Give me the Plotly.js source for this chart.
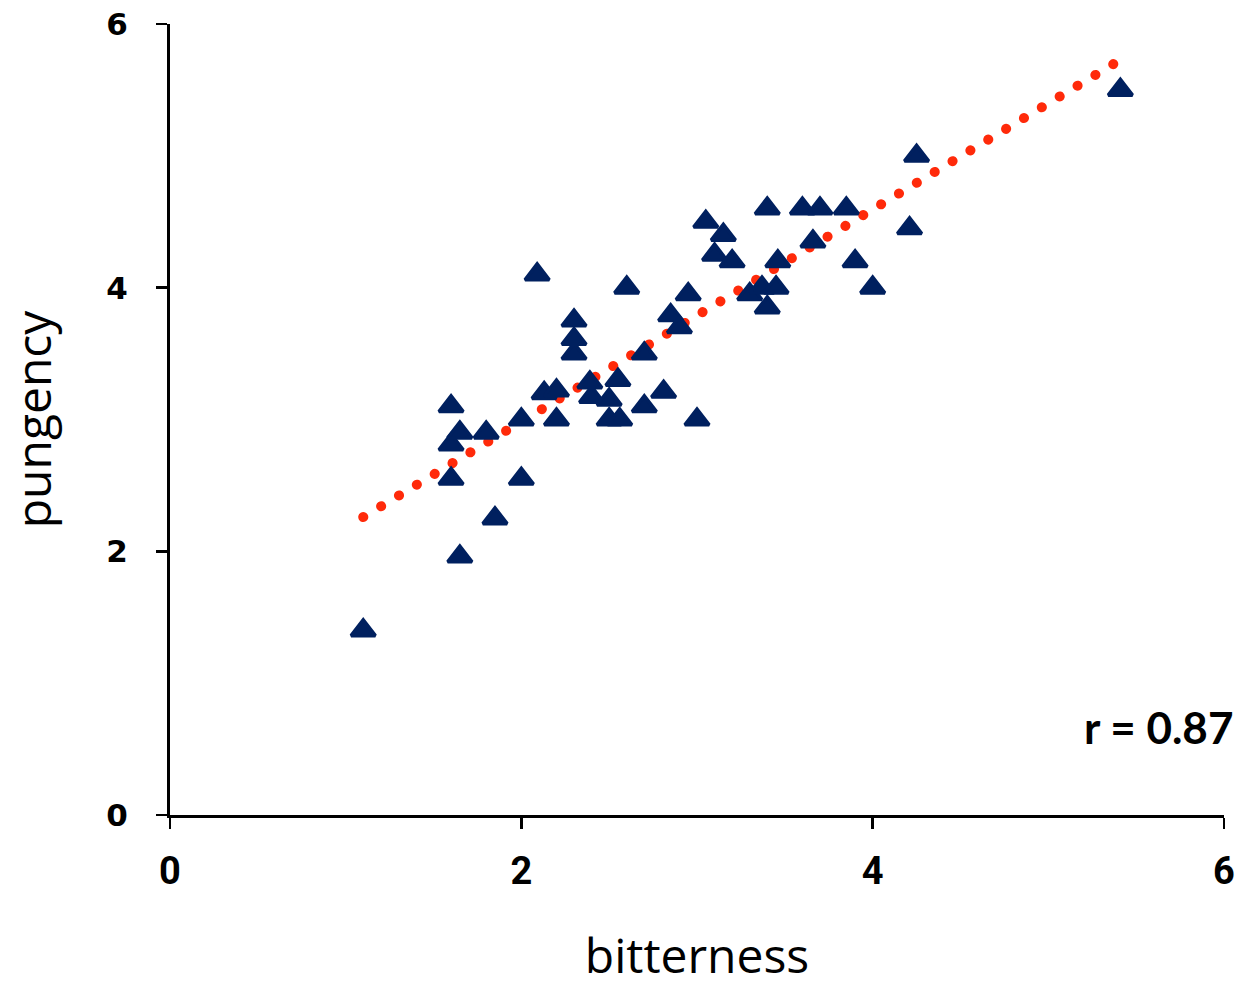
<!DOCTYPE html>
<html>
<head>
<meta charset="utf-8">
<script src="https://cdn.plot.ly/plotly-3.0.1.min.js"></script>
<style>
html, body { margin: 0; padding: 0; background: #ffffff; }
#chart { width: 1249px; height: 987px; }
.scatterlayer .trace:first-child .js-line { stroke-linecap: round !important; }
</style>
</head>
<body>
<div id="chart"></div>
<script>
// bitterness (x) and pungency (y)
const bitterness = [1.10, 1.65, 1.85, 1.60, 2.00, 1.60, 1.65, 1.80, 1.60, 2.00,
                    2.20, 2.09, 2.13, 2.20, 2.30, 2.30, 2.30, 2.40, 2.39, 2.50,
                    2.50, 2.56, 2.55, 2.60, 2.70, 2.70, 2.81, 2.85, 2.90, 2.95,
                    3.00, 3.05, 3.10, 3.15, 3.20, 3.30, 3.37, 3.40, 3.40, 3.45,
                    3.46, 3.60, 3.66, 3.70, 3.85, 3.90, 4.00, 4.21, 4.25, 5.41];
const pungency   = [1.40, 1.96, 2.25, 2.55, 2.55, 2.81, 2.90, 2.90, 3.10, 3.00,
                    3.00, 4.10, 3.20, 3.22, 3.50, 3.61, 3.75, 3.17, 3.28, 3.15,
                    3.00, 3.00, 3.30, 4.00, 3.50, 3.10, 3.21, 3.79, 3.70, 3.95,
                    3.00, 4.50, 4.25, 4.40, 4.20, 3.95, 4.00, 4.60, 3.85, 4.00,
                    4.20, 4.60, 4.35, 4.60, 4.60, 4.20, 4.00, 4.45, 5.00, 5.50];
// linear trend line end points
const trendX = [1.10, 5.40];
const trendY = [2.26, 5.72];
const tickVals = [0, 2, 4, 6];
const tickText = ["0", "2", "4", "6"];
const rLabel = "r = 0.87";

const traces = [
  {
    x: trendX, y: trendY, type: "scatter", mode: "lines",
    line: { color: "#FF2A0A", width: 10, dash: "0.1px,20.76px" },
    hoverinfo: "skip", showlegend: false
  },
  {
    x: bitterness, y: pungency, type: "scatter", mode: "markers",
    marker: { symbol: "triangle-up", size: 21, color: "#00205F",
              line: { color: "#00205F", width: 3.5 } },
    showlegend: false
  }
];

const layout = {
  width: 1249, height: 987,
  margin: { l: 170, r: 25, t: 24, b: 172 },
  paper_bgcolor: "#ffffff", plot_bgcolor: "#ffffff",
  showlegend: false,
  xaxis: {
    range: [0, 6], tickvals: tickVals, ticktext: tickText,
    showgrid: false, zeroline: false,
    showline: true, linecolor: "#000000", linewidth: 3,
    ticks: "outside", ticklen: 11, tickwidth: 2.5, tickcolor: "#000000",
    ticklabelstandoff: 9,
    tickfont: { family: "Liberation Sans Narrow, Roboto, sans-serif", size: 38, color: "#000000", weight: "bold" },
    title: { text: "bitterness", standoff: 62,
             font: { family: "Liberation Sans Narrow, Open Sans, sans-serif", size: 48, color: "#000000" } },
    fixedrange: true
  },
  yaxis: {
    range: [0, 6], tickvals: tickVals, ticktext: tickText,
    showgrid: false, zeroline: false,
    showline: true, linecolor: "#000000", linewidth: 3,
    ticks: "outside", ticklen: 11, tickwidth: 2.5, tickcolor: "#000000",
    ticklabelstandoff: 22,
    tickfont: { family: "DejaVu Sans, sans-serif", size: 31, color: "#000000", weight: "bold" },
    title: { text: "pungency", standoff: 43,
             font: { family: "Liberation Sans Narrow, Open Sans, sans-serif", size: 48, color: "#000000" } },
    fixedrange: true
  },
  annotations: [
    { text: rLabel, xref: "paper", yref: "paper", x: 1.0105, y: 0.111,
      xanchor: "right", yanchor: "middle", showarrow: false,
      font: { family: "Lato, Open Sans, sans-serif", size: 44, color: "#000000", weight: "bold" } }
  ]
};

Plotly.newPlot("chart", traces, layout, { displayModeBar: false, staticPlot: true });
</script>
</body>
</html>
